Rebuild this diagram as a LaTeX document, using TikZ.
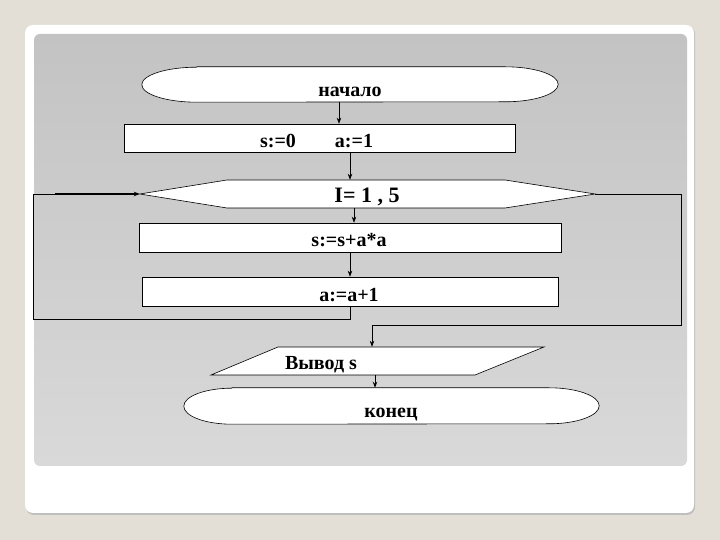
\documentclass[tikz,border=0pt]{standalone}
\usepackage{fontspec}
\setmainfont{Liberation Serif}
\usetikzlibrary{arrows.meta}
\definecolor{pagebg}{HTML}{E3DFD6}
\definecolor{paneltop}{HTML}{C3C3C3}
\definecolor{panelbot}{HTML}{D9D9D9}
\tikzset{
  shp/.style={draw=black, line width=0.6pt, fill=white},
  box/.style={shp, rectangle, inner sep=0pt},
  anchorbox/.style={draw=none, rectangle, inner sep=0pt},
  lbl/.style={font=\fontsize{20}{20}\selectfont\bfseries, inner sep=0pt, anchor=base},
  conn/.style={draw=black, line width=0.6pt},
  arr/.style={conn, -{Stealth[length=6pt,width=4.5pt]}},
}
\begin{document}
\begin{tikzpicture}[x=1pt,y=1pt]
\useasboundingbox (0,0) rectangle (720,540);
\fill[pagebg] (0,0) rectangle (720,540);
% card
\fill[black!25, rounded corners=8pt] (26,25) rectangle (695,514);
\fill[white, rounded corners=8pt] (25,27) rectangle (694,515);
% panel
\shade[top color=paneltop, bottom color=panelbot, rounded corners=6pt] (34,74) rectangle (687,506);

% start terminator
\node[anchorbox, minimum width=416pt, minimum height=35pt] (start) at (350,455.5) {};
\draw[shp] ([xshift=55pt]start.north west) -- ([xshift=-53pt]start.north east)
  arc[start angle=90, end angle=-90, x radius=53pt, y radius=17.5pt]
  -- ([xshift=55pt]start.south west)
  arc[start angle=-90, end angle=-270, x radius=55pt, y radius=17.5pt] -- cycle;
\node[lbl] (tstart) at (350,443) {начало};

% init
\node[box, minimum width=391pt, minimum height=28pt] (init) at (319.5,402) {};
\node[lbl] (ts) at (278,392) {s:=0};
\node[lbl] (ta) at (354,392) {a:=1};

% loop hexagon
\node[anchorbox, minimum width=455pt, minimum height=28pt] (loop) at (367.5,346) {};
\draw[shp] (loop.west) -- (227,360) -- (505,360) -- (loop.east) -- (505,332) -- (227,332) -- cycle;
\node[lbl, font=\fontsize{22}{22}\selectfont\bfseries] (tloop) at (367,337) {I= 1 , 5};

% body 1
\node[box, minimum width=422pt, minimum height=29pt] (body1) at (350,302.5) {};
\node[lbl] (tb1) at (349,293) {s:=s+a*a};

% body 2
\node[box, minimum width=416pt, minimum height=29pt] (body2) at (350,248.5) {};
\node[lbl] (tb2) at (349,238) {a:=a+1};

% output parallelogram
\node[anchorbox, minimum width=333pt, minimum height=28pt] (out) at (377.5,179) {};
\draw[shp] (278,193) -- (544,193) -- (475,165) -- (211,165) -- cycle;
\node[lbl] (tout) at (321,170) {Вывод s};

% end terminator
\node[anchorbox, minimum width=415pt, minimum height=36pt] (stop) at (391.5,134) {};
\draw[shp] ([xshift=48pt]stop.north west) -- ([xshift=-50pt]stop.north east)
  arc[start angle=90, end angle=-90, x radius=50pt, y radius=18pt]
  -- ([xshift=48pt]stop.south west)
  arc[start angle=-90, end angle=-270, x radius=48pt, y radius=18pt] -- cycle;
\node[lbl] (tstop) at (391,122) {конец};

% connectors
\draw[arr] (start.south -| 339,0) -- (init.north -| 339,0);
\draw[arr] (init.south -| 350,0) -- (loop.north -| 350,0);
\draw[arr] (loop.south -| 354,0) -- (body1.north -| 354,0);
\draw[arr] (body1.south -| 350,0) -- (body2.north -| 350,0);
% loop back
\coordinate (lb1) at (350,221);
\coordinate (lb2) at (33,221);
\coordinate (lb3) at (33,346);
\coordinate (lb4) at (55,346);
\draw[conn] (body2.south -| 350,0) -- (lb1) -- (lb2) -- (lb3) -- (lb4);
\draw[arr, line width=1.2pt] (lb4) -- (loop.west);
% exit
\coordinate (ex1) at (681,346);
\coordinate (ex2) at (681,215);
\coordinate (ex3) at (372,215);
\draw[arr] (loop.east) -- (ex1) -- (ex2) -- (ex3) -- (out.north -| 372,0);
\draw[arr, line width=1pt] (out.south -| 375,0) -- (stop.north -| 375,0);
\end{tikzpicture}
\end{document}
